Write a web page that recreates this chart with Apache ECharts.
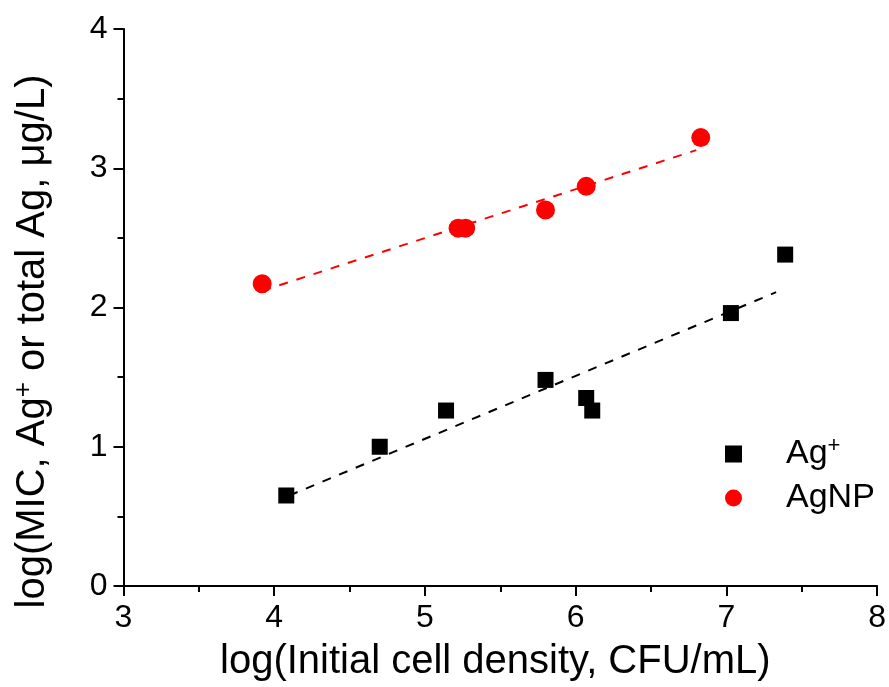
<!DOCTYPE html>
<html>
<head>
<meta charset="utf-8">
<script src="https://cdn.jsdelivr.net/npm/echarts@6/dist/echarts.min.js"></script>
<style>html,body{margin:0;padding:0;background:#fff}#c{width:889px;height:687px}</style>
</head>
<body>
<div id="c"></div>
<script>
// Ag+ (black squares)
const agIonX = [4.08, 4.70, 5.14, 5.80, 6.07, 6.11, 7.03, 7.39];
const agIonY = [0.65, 1.00, 1.26, 1.48, 1.35, 1.26, 1.96, 2.38];
// AgNP (red circles)
const agnpX = [3.92, 5.22, 5.27, 5.80, 6.07, 6.83];
const agnpY = [2.17, 2.57, 2.57, 2.70, 2.87, 3.22];
// fitted dashed lines (endpoints)
const agIonFitX = [4.10, 7.33];
const agIonFitY = [0.65, 2.11];
const agnpFitX = [3.92, 6.80];
const agnpFitY = [2.12, 3.13];
// axes
const xTicks = [3, 4, 5, 6, 7, 8];
const yTicks = [0, 1, 2, 3, 4];

const zip = (a, b) => a.map((v, i) => [v, b[i]]);
const font = 'Liberation Sans, Arial, sans-serif';

const chart = echarts.init(document.getElementById('c'));
const axisCommon = {
  axisLine: { show: true, lineStyle: { color: '#000', width: 2 } },
  axisTick: { show: true, inside: false, length: 10, lineStyle: { color: '#000', width: 2 } },
  minorTick: { show: true, splitNumber: 2, length: 6, lineStyle: { color: '#000', width: 2 } },
  splitLine: { show: false },
  axisLabel: { color: '#000', fontSize: 32, fontFamily: font, margin: 16 }
};
chart.setOption({
  animation: false,
  backgroundColor: '#fff',
  grid: { left: 123.5, right: 10, top: 29, bottom: 99, containLabel: false },
  xAxis: Object.assign({}, axisCommon, {
    type: 'value', min: xTicks[0], max: xTicks[xTicks.length - 1], interval: 1,
    name: 'log(Initial cell density, CFU/mL)', nameLocation: 'middle', nameGap: 56,
    nameTextStyle: { color: '#000', fontSize: 40, fontFamily: font, padding: [0, 10, 0, 0] }
  }),
  yAxis: Object.assign({}, axisCommon, {
    type: 'value', min: yTicks[0], max: yTicks[yTicks.length - 1], interval: 1,
    name: '{a|log(MIC, Ag}{s|+}{a| or total Ag, μg/L)}', nameLocation: 'middle', nameGap: 69,
    nameTextStyle: {
      color: '#000', fontSize: 40, fontFamily: font, padding: [0, 68, 0, 0],
      rich: {
        a: { fontSize: 40, fontFamily: font, color: '#000' },
        s: { fontSize: 26, fontFamily: font, color: '#000', verticalAlign: 'top', padding: [0, 0, 18, 0] }
      }
    }
  }),
  legend: {
    orient: 'vertical', left: 720, top: 430,
    itemWidth: 17, itemHeight: 17, itemGap: 10,
    data: [{ name: 'Ag+', icon: 'rect' }, { name: 'AgNP', icon: 'circle' }],
    formatter: n => n === 'Ag+' ? '{a|Ag}{s|+}' : '{a|AgNP}',
    textStyle: {
      padding: [0, 0, 0, 39],
      rich: {
        a: { fontSize: 34, fontFamily: font, color: '#000' },
        s: { fontSize: 22, fontFamily: font, color: '#000', verticalAlign: 'top', padding: [0, 0, 16, 0] }
      }
    }
  },
  series: [
    { type: 'line', data: zip(agIonFitX, agIonFitY), showSymbol: false, symbol: 'none', silent: true,
      lineStyle: { color: '#000', width: 2, type: [9, 9] }, z: 1 },
    { type: 'line', data: zip(agnpFitX, agnpFitY), showSymbol: false, symbol: 'none', silent: true,
      lineStyle: { color: '#ff0000', width: 2, type: [9, 9] }, z: 1 },
    { name: 'Ag+', type: 'scatter', symbol: 'rect', symbolSize: 16, data: zip(agIonX, agIonY),
      itemStyle: { color: '#000', opacity: 1 }, z: 2 },
    { name: 'AgNP', type: 'scatter', symbol: 'circle', symbolSize: 19, data: zip(agnpX, agnpY),
      itemStyle: { color: '#ff0000', opacity: 1 }, z: 2 }
  ]
});
</script>
</body>
</html>
